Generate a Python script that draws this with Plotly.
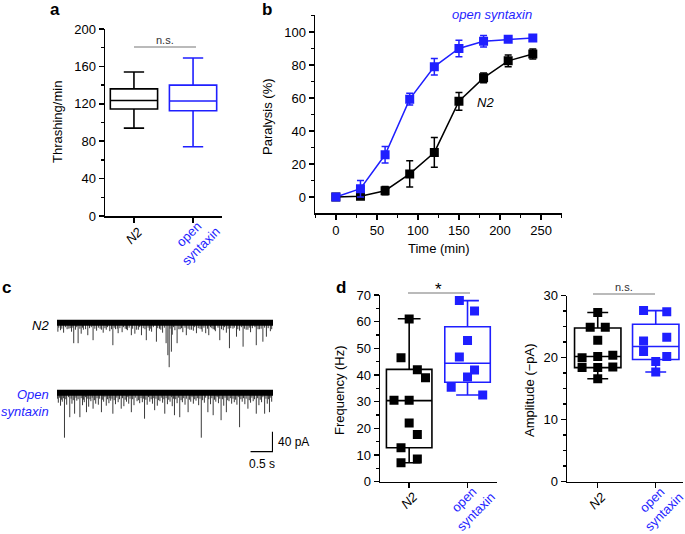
import plotly.graph_objects as go

FONT = "Liberation Sans, Arial, sans-serif"
BLUE = "#1f1fff"
BLACK = "#000000"
GRAY = "#777777"
W, H = 685, 534

# ---------------- data ----------------
groups = ["N2", "open syntaxin"]

# panel a : thrashing (box statistics)
thrash_low = [94, 74]
thrash_q1 = [114.5, 112.5]
thrash_med = [123.5, 123]
thrash_q3 = [136, 140]
thrash_high = [154, 169]

# panel b : paralysis time course
time_min = [0, 30, 60, 90, 120, 150, 180, 210, 240]
par_n2 = [0, 0.4, 3.8, 14, 27, 58, 72.2, 82.5, 86.7]
par_n2_err = [0, 0, 2.5, 8, 9, 5.4, 3, 3.5, 3]
par_os = [0, 5, 25.6, 59.3, 79, 90, 94.4, 95.6, 96.4]
par_os_err = [0, 5, 5, 3.5, 5, 5, 3.5, 1.5, 1]

# panel c : mEPSC events (time s, amplitude pA)
n2_evt_t = [0.02, 0.38, 0.48, 0.70, 0.82, 1.27, 1.39, 1.69, 1.92, 2.03, 2.26, 2.48, 2.52, 2.55, 2.60,
            2.73, 2.94, 3.17, 3.45, 3.70, 3.92, 4.08, 4.23, 4.53, 4.68, 4.76]
n2_evt_a = [18, 41, 41, 25, 35, 45, 21, 25, 25, 35, 38, 41, 65, 89, 58,
            41, 25, 21, 25, 35, 51, 28, 48, 45, 38, 28]
n2_small_t = [0.08, 0.15, 0.27, 0.33, 0.55, 0.60, 0.90, 0.98, 1.05, 1.12, 1.20, 1.33, 1.48, 1.55,
              1.60, 1.77, 1.85, 2.10, 2.15, 2.33, 2.40, 2.62, 2.68, 2.80, 2.86, 3.02, 3.10, 3.25,
              3.30, 3.38, 3.55, 3.60, 3.78, 3.85, 4.00, 4.15, 4.30, 4.40, 4.60, 4.85]
n2_small_a = [15, 20, 12, 18, 22, 14, 16, 12, 20, 14, 17, 13, 19, 12,
              15, 22, 14, 16, 18, 12, 20, 24, 15, 13, 19, 14, 16, 12,
              18, 21, 13, 17, 15, 20, 12, 16, 14, 19, 13, 17]
n2_tiny_t = [0.04, 0.11, 0.19, 0.23, 0.30, 0.36, 0.42, 0.45, 0.52, 0.58, 0.65, 0.74, 0.78, 0.86,
             0.94, 1.01, 1.09, 1.15, 1.24, 1.30, 1.37, 1.43, 1.51, 1.58, 1.64, 1.72, 1.81, 1.88,
             1.96, 2.00, 2.07, 2.12, 2.19, 2.29, 2.36, 2.44, 2.57, 2.65, 2.77, 2.83, 2.91, 2.98,
             3.06, 3.13, 3.21, 3.28, 3.34, 3.42, 3.49, 3.52, 3.58, 3.66, 3.74, 3.81, 3.89, 3.95,
             4.03, 4.11, 4.19, 4.26, 4.34, 4.37, 4.44, 4.50, 4.57, 4.64, 4.72, 4.80, 4.88]
n2_tiny_a = [10, 12, 9, 13, 11, 10, 14, 9, 12, 10, 13, 11, 9, 12,
             10, 14, 11, 9, 13, 10, 12, 11, 9, 13, 10, 12, 14, 9,
             11, 13, 10, 12, 9, 11, 14, 10, 12, 9, 13, 11, 10, 12,
             14, 9, 11, 13, 10, 12, 9, 11, 14, 10, 13, 9, 12, 11,
             10, 13, 9, 12, 14, 10, 11, 9, 13, 12, 10, 11, 13]
os_evt_t = [0.17, 0.29, 0.40, 0.52, 0.67, 0.82, 1.01, 1.27, 1.46, 1.69, 1.99, 2.22, 2.45, 2.67,
            2.79, 2.98, 3.28, 3.43, 3.55, 3.73, 3.85, 4.15, 4.34, 4.53, 4.72, 4.83]
os_evt_a = [90, 49, 42, 49, 39, 32, 39, 42, 32, 39, 52, 35, 42, 45,
            49, 39, 90, 39, 45, 55, 39, 69, 32, 42, 42, 39]
os_small_t = [0.03, 0.08, 0.12, 0.22, 0.34, 0.45, 0.58, 0.62, 0.72, 0.77, 0.88, 0.94, 1.06, 1.12,
              1.18, 1.22, 1.33, 1.39, 1.52, 1.58, 1.63, 1.75, 1.82, 1.88, 1.94, 2.05, 2.11, 2.17,
              2.28, 2.34, 2.40, 2.51, 2.57, 2.62, 2.73, 2.85, 2.91, 3.04, 3.10, 3.16, 3.22, 3.35,
              3.49, 3.61, 3.67, 3.79, 3.91, 3.97, 4.03, 4.09, 4.21, 4.27, 4.40, 4.46, 4.59, 4.65,
              4.78, 4.88]
os_small_a = [20, 26, 18, 24, 22, 16, 25, 19, 28, 17, 22, 24, 18, 26,
              21, 16, 23, 19, 27, 18, 22, 25, 17, 21, 19, 24, 18, 22,
              26, 17, 20, 23, 18, 27, 21, 19, 24, 18, 22, 16, 25, 20,
              23, 18, 21, 26, 17, 22, 19, 24, 18, 23, 20, 17, 25, 19,
              22, 18]
os_tiny_t = [0.01, 0.06, 0.10, 0.15, 0.20, 0.26, 0.32, 0.37, 0.43, 0.48, 0.55, 0.60, 0.65, 0.70,
             0.75, 0.80, 0.85, 0.91, 0.97, 1.03, 1.09, 1.15, 1.20, 1.25, 1.30, 1.36, 1.42, 1.49,
             1.55, 1.61, 1.66, 1.72, 1.78, 1.85, 1.91, 1.97, 2.02, 2.08, 2.14, 2.20, 2.25, 2.31,
             2.37, 2.43, 2.48, 2.54, 2.60, 2.65, 2.70, 2.76, 2.82, 2.88, 2.94, 3.01, 3.07, 3.13,
             3.19, 3.25, 3.31, 3.38, 3.45, 3.52, 3.58, 3.64, 3.70, 3.76, 3.82, 3.88, 3.94, 4.00,
             4.06, 4.12, 4.18, 4.24, 4.30, 4.37, 4.43, 4.49, 4.56, 4.62, 4.68, 4.75, 4.81, 4.86]
os_tiny_a = [12, 10, 14, 11, 13, 9, 12, 15, 10, 13, 11, 14, 9, 12,
             13, 10, 15, 11, 12, 14, 9, 13, 11, 12, 15, 10, 13, 11,
             14, 9, 12, 13, 10, 15, 11, 12, 14, 9, 13, 11, 12, 15,
             10, 13, 11, 14, 9, 12, 13, 10, 15, 11, 12, 14, 9, 13,
             11, 12, 15, 10, 13, 11, 14, 9, 12, 13, 10, 15, 11, 12,
             14, 9, 13, 11, 12, 15, 10, 13, 11, 14, 9, 12, 13, 10]
scale_time = [0.5]
scale_amp = [40]

# panel d : frequency & amplitude
freq_n2 = [61, 46.5, 42, 39, 30.5, 30.5, 22, 17.7, 12.7, 7.1, 8.5]
freq_n2_off = [0, -0.14, 0.14, 0.28, -0.26, 0, 0, 0.14, -0.14, -0.14, 0.14]
freq_os = [67.9, 64, 52.9, 46.75, 41.9, 39.25, 35.4, 32.5]
freq_os_off = [-0.14, 0.12, 0, -0.14, 0.12, 0, -0.28, 0.26]
freq_low = [7.1, 32.5]
freq_q1 = [12.75, 37.3]
freq_med = [30.4, 44.4]
freq_q3 = [42.1, 58.1]
freq_high = [61.1, 67.9]

amp_n2 = [27.3, 24.9, 24.9, 22.8, 20.0, 20.2, 20.4, 18.4, 18.4, 18.5, 16.6]
amp_n2_off = [0, -0.13, 0.13, 0, -0.27, 0, 0.26, -0.27, 0, 0.26, 0]
amp_os = [27.6, 27.4, 22.7, 23.3, 21.0, 20.2, 19.4, 17.7]
amp_os_off = [-0.21, 0.19, -0.21, 0.19, -0.21, 0.19, 0, 0]
amp_low = [16.6, 17.7]
amp_q1 = [18.4, 19.7]
amp_med = [20.2, 21.8]
amp_q3 = [24.8, 25.4]
amp_high = [27.3, 27.6]

group_colors = [BLACK, BLUE]
group_labels = ["<i>N2</i>", "open<br>syntaxin"]

# ---------------- helpers ----------------
def px_x(x):
    return x / W

def px_y(y):
    return 1 - y / H

TICKFONT = dict(family=FONT, size=13, color=BLACK)

def yaxis(domain, rng, dtick, mdtick, anchor):
    return dict(domain=domain, range=rng, anchor=anchor, showline=True, linecolor=BLACK, linewidth=1.5,
                ticks="outside", ticklen=5, tickwidth=1.5, tickcolor=BLACK, tick0=0, dtick=dtick,
                minor=dict(ticks="outside", ticklen=3, tickwidth=1.5, tickcolor=BLACK, tick0=0, dtick=mdtick),
                showgrid=False, zeroline=False, tickfont=TICKFONT, automargin=False)

def cat_xaxis(domain, rng, anchor):
    return dict(domain=domain, range=rng, anchor=anchor, showline=True, linecolor=BLACK, linewidth=1.5,
                ticks="outside", ticklen=5, tickwidth=1.5, tickcolor=BLACK,
                tickmode="array", tickvals=[0, 1], showticklabels=False,
                showgrid=False, zeroline=False, automargin=False)

fig = go.Figure()

def add_boxes(xa, ya, low, q1, med, q3, high, width, ww):
    for i in range(2):
        fig.add_trace(go.Box(x=[i], lowerfence=[low[i]], q1=[q1[i]], median=[med[i]], q3=[q3[i]],
                             upperfence=[high[i]], width=width, whiskerwidth=ww, name=groups[i],
                             line=dict(color=group_colors[i], width=1.6), fillcolor="rgba(0,0,0,0)",
                             boxpoints=False, hoverinfo="skip", xaxis=xa, yaxis=ya, showlegend=False))

# panel a
add_boxes("x", "y", thrash_low, thrash_q1, thrash_med, thrash_q3, thrash_high, 0.8, 0.43)

# panel b
fig.add_trace(go.Scatter(x=time_min, y=par_n2, mode="lines+markers", xaxis="x2", yaxis="y2",
                         line=dict(color=BLACK, width=1.5), marker=dict(symbol="square", size=9, color=BLACK),
                         error_y=dict(type="data", array=par_n2_err, color=BLACK, thickness=1.5, width=3.5),
                         showlegend=False))
fig.add_trace(go.Scatter(x=time_min, y=par_os, mode="lines+markers", xaxis="x2", yaxis="y2",
                         line=dict(color=BLUE, width=1.5), marker=dict(symbol="square", size=9, color=BLUE),
                         error_y=dict(type="data", array=par_os_err, color=BLUE, thickness=1.5, width=3.5),
                         showlegend=False))

# panel c traces
T_END = 4.91
bases = [0, -140]
for base, pairs in [(bases[0], [(n2_tiny_t, n2_tiny_a), (n2_small_t, n2_small_a), (n2_evt_t, n2_evt_a)]),
                    (bases[1], [(os_tiny_t, os_tiny_a), (os_small_t, os_small_a), (os_evt_t, os_evt_a)])]:
    xs, ys = [], []
    for tt, aa in pairs:
        for t, a in zip(tt, aa):
            xs += [t, t, None]
            ys += [base + 4, base - a, None]
    fig.add_trace(go.Scatter(x=xs, y=ys, mode="lines", line=dict(color="#3a3a3a", width=1),
                             xaxis="x3", yaxis="y3", showlegend=False, hoverinfo="skip"))
    fig.add_trace(go.Scatter(x=[0, T_END], y=[base, base], mode="lines", line=dict(color=BLACK, width=6),
                             xaxis="x3", yaxis="y3", showlegend=False, hoverinfo="skip"))
# scale bar
sb_x1 = T_END - 0.01
sb_y0 = -258
fig.add_trace(go.Scatter(x=[sb_x1 - scale_time[0], sb_x1, sb_x1], y=[sb_y0, sb_y0, sb_y0 + scale_amp[0]],
                         mode="lines", line=dict(color=BLACK, width=1.3), xaxis="x3", yaxis="y3",
                         showlegend=False, hoverinfo="skip"))

# panel d frequency
add_boxes("x4", "y4", freq_low, freq_q1, freq_med, freq_q3, freq_high, 0.78, 0.5)
fig.add_trace(go.Scatter(x=[0 + o for o in freq_n2_off], y=freq_n2, mode="markers", xaxis="x4", yaxis="y4",
                         marker=dict(symbol="square", size=9, color=BLACK), showlegend=False))
fig.add_trace(go.Scatter(x=[1 + o for o in freq_os_off], y=freq_os, mode="markers", xaxis="x4", yaxis="y4",
                         marker=dict(symbol="square", size=9, color=BLUE), showlegend=False))
# panel d amplitude
add_boxes("x5", "y5", amp_low, amp_q1, amp_med, amp_q3, amp_high, 0.8, 0.45)
fig.add_trace(go.Scatter(x=[0 + o for o in amp_n2_off], y=amp_n2, mode="markers", xaxis="x5", yaxis="y5",
                         marker=dict(symbol="square", size=9, color=BLACK), showlegend=False))
fig.add_trace(go.Scatter(x=[1 + o for o in amp_os_off], y=amp_os, mode="markers", xaxis="x5", yaxis="y5",
                         marker=dict(symbol="square", size=9, color=BLUE), showlegend=False))

# ---------------- layout ----------------
bx = dict(domain=[px_x(315), px_x(561.7)], range=[-25.4, 275.2], anchor="y2", showline=True, linecolor=BLACK,
          linewidth=1.5, ticks="outside", ticklen=5, tickwidth=1.5, tickcolor=BLACK, tick0=0, dtick=50,
          minor=dict(ticks="outside", ticklen=3, tickwidth=1.5, tickcolor=BLACK, tick0=0, dtick=25),
          showgrid=False, zeroline=False, tickfont=TICKFONT, automargin=False)

fig.update_layout(
    template="none",
    width=W, height=H, margin=dict(l=0, r=0, t=0, b=0, pad=0), paper_bgcolor="white", plot_bgcolor="white",
    font=dict(family=FONT, size=13, color=BLACK), showlegend=False, boxmode="overlay",
    xaxis=cat_xaxis([px_x(105), px_x(222)], [-0.49, 1.49], "y"),
    yaxis=yaxis([px_y(216), px_y(29)], [0, 200], 40, 20, "x"),
    xaxis2=bx,
    yaxis2=yaxis([px_y(213), px_y(15)], [-9.7, 110.3], 20, 10, "x2"),
    xaxis3=dict(domain=[px_x(57), px_x(273)], range=[0, T_END], visible=False, anchor="y3", automargin=False),
    yaxis3=dict(domain=[px_y(460), px_y(300)], range=[-274.6, 45.4], visible=False, anchor="x3", automargin=False),
    xaxis4=cat_xaxis([px_x(380), px_x(496.7)], [-0.50, 1.50], "y4"),
    yaxis4=yaxis([px_y(481.7), px_y(295)], [0, 70], 10, 5, "x4"),
    xaxis5=cat_xaxis([px_x(567), px_x(683)], [-0.53, 1.47], "y5"),
    yaxis5=yaxis([px_y(481.7), px_y(295.7)], [0, 30], 10, 2.5, "x5"),
)

def ann(x, y, text, size=13, color=BLACK, angle=0, xanchor="center", yanchor="middle", bold=False,
        align="center"):
    if bold:
        text = "<b>%s</b>" % text
    fig.add_annotation(x=px_x(x), y=px_y(y), xref="paper", yref="paper", text=text, showarrow=False,
                       textangle=angle, xanchor=xanchor, yanchor=yanchor, align=align,
                       font=dict(family=FONT, size=size, color=color))

def hline(x0, x1, y, color=GRAY, width=1.2):
    fig.add_shape(type="line", xref="paper", yref="paper", x0=px_x(x0), x1=px_x(x1), y0=px_y(y), y1=px_y(y),
                  line=dict(color=color, width=width))

# rotated category labels (anchored under each category tick)
def cat_labels(xref, axis_bottom_px):
    for i in range(2):
        dy = 19 if i == 0 else 24
        dx = 0 if i == 0 else 2
        fig.add_annotation(x=i, xref=xref, y=px_y(axis_bottom_px + dy), yref="paper", xshift=dx,
                           text=group_labels[i], showarrow=False, textangle=-45, align="center",
                           xanchor="center", yanchor="middle",
                           font=dict(family=FONT, size=13, color=group_colors[i]))

cat_labels("x", 216)
cat_labels("x4", 481.7)
cat_labels("x5", 481.7)

# panel letters
ann(55, 9, "a", size=17, bold=True)
ann(267, 9, "b", size=17, bold=True)
ann(6, 287, "c", size=17, bold=True)
ann(341, 287, "d", size=17, bold=True)

# axis titles
ann(57, 122, "Thrashing/min", angle=-90)
ann(268, 117, "Paralysis (%)", angle=-90)
ann(439, 248, "Time (min)")
ann(339, 390, "Frequency (Hz)", angle=-90)
ann(529, 390, "Amplitude (\u2212pA)", angle=-90)

# significance
hline(134, 196, 47)
ann(165, 40, "n.s.", size=11, color="#333333")
hline(408, 470, 293)
ann(439, 289, "*", size=17)
hline(593, 655, 294)
ann(624, 287, "n.s.", size=11, color="#333333")

# panel b labels
ann(492, 15, "<i>open syntaxin</i>", size=13, color=BLUE)
ann(486, 102, "<i>N2</i>", size=13)

# panel c labels
ann(51, 325, "<i>N2</i>", size=13, xanchor="right")
ann(51, 403, "<i>Open<br>syntaxin</i>", size=13, color=BLUE, xanchor="right", align="right")
ann(276, 442, "40 pA", size=12, xanchor="left")
ann(262, 464, "0.5 s", size=12)

fig.write_html("out.html", config={"displayModeBar": False, "staticPlot": True},
               post_script="document.body.style.margin='0';document.body.style.overflow='hidden';")
